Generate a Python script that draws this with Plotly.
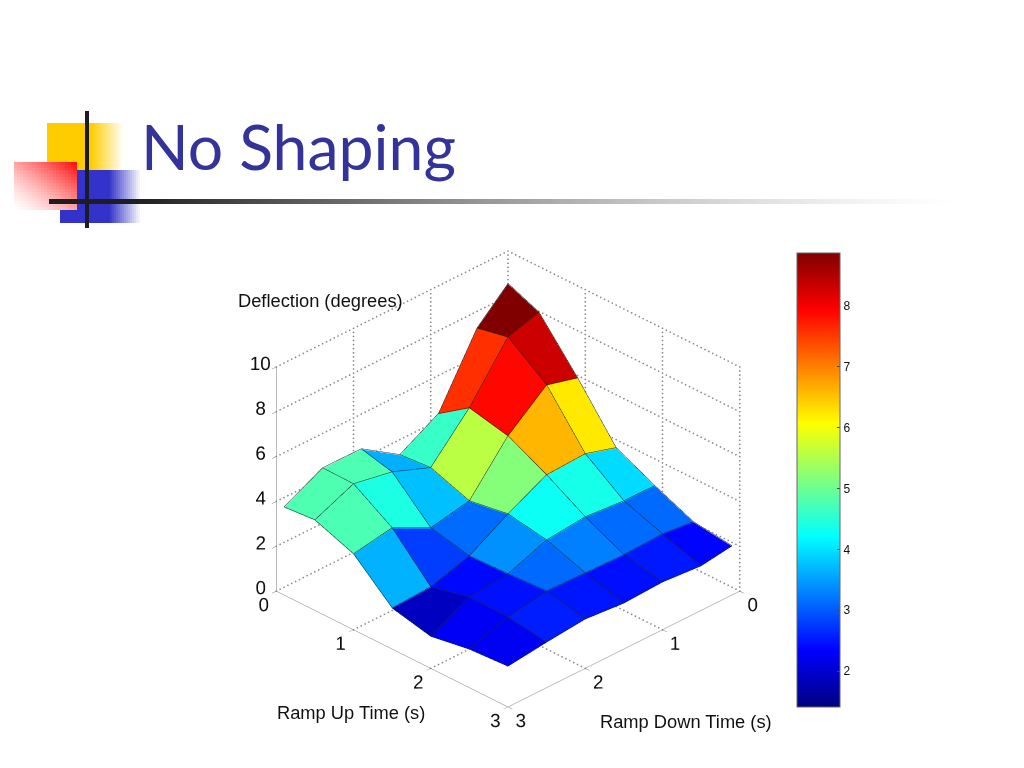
import plotly.graph_objects as go

ramp_up = [0.1, 0.5, 1.0, 1.5, 2.0, 2.5, 3.0]
ramp_down = [3.0, 2.5, 2.0, 1.5, 1.0, 0.5, 0.1]
row_0 = [3.90, 4.78, 4.77, 3.65, 4.62, 7.58, 8.87]
row_1 = [4.01, 4.76, 4.43, 3.76, 5.57, 7.87, 8.29]
row_2 = [3.36, 3.66, 2.80, 3.14, 5.18, 6.59, 6.22]
row_3 = [1.81, 1.89, 2.41, 3.42, 4.30, 4.38, 3.96]
row_4 = [1.41, 2.30, 2.47, 3.12, 3.29, 3.14, 3.13]
row_5 = [1.70, 2.27, 2.57, 2.51, 2.46, 2.53, 2.38]
row_6 = [1.80, 2.01, 2.18, 2.03, 2.11, 1.97, 2.17]
deflection = [row_0, row_1, row_2, row_3, row_4, row_5, row_6]
time_ticks = [0, 1, 2, 3]
z_ticks = [0, 2, 4, 6, 8, 10]
bar_ticks = [2, 3, 4, 5, 6, 7, 8]
title_text = "No Shaping"
z_label = "Deflection (degrees)"
up_label = "Ramp Up Time (s)"
down_label = "Ramp Down Time (s)"

W, H = 1024, 768
jet = [[0, "rgb(0,0,128)"], [0.125, "rgb(0,0,255)"], [0.375, "rgb(0,255,255)"],
       [0.625, "rgb(255,255,0)"], [0.875, "rgb(255,0,0)"], [1, "rgb(128,0,0)"]]
zlo, zhi = 1.41, 8.87
n = len(ramp_up)

xs, ys, zs = [], [], []
for a in range(n):
    for b in range(n):
        xs.append(ramp_down[b]); ys.append(ramp_up[a]); zs.append(deflection[a][b])
ti, tj, tk, cell = [], [], [], []
for a in range(n - 1):
    for b in range(n - 1):
        p = a * n + b
        ti += [p, p]; tj += [p + 1, p + n + 1]; tk += [p + n + 1, p + n]
        cell += [deflection[a][b + 1]] * 2

fig = go.Figure()
fig.add_trace(go.Mesh3d(
    x=xs, y=ys, z=zs, i=ti, j=tj, k=tk, intensity=cell, intensitymode="cell",
    colorscale=jet, cmin=zlo, cmax=zhi, flatshading=True, hoverinfo="skip",
    lighting=dict(ambient=1, diffuse=0, specular=0, fresnel=0, roughness=1),
    colorbar=dict(
        thicknessmode="pixels", thickness=43, lenmode="pixels", len=454,
        x=797 / W, xanchor="left", xpad=0, ypad=0, y=1 - 480 / H, yanchor="middle",
        tickmode="array", tickvals=bar_ticks, ticks="inside", ticklen=3, tickcolor="#444",
        tickfont=dict(family="Liberation Sans", size=12, color="#111"),
        outlinecolor="#666", outlinewidth=1),
))

lift = 0.03
ex, ey, ez = [], [], []
for a in range(n):
    for b in range(n):
        ex.append(ramp_down[b]); ey.append(ramp_up[a]); ez.append(deflection[a][b] + lift)
    ex.append(None); ey.append(None); ez.append(None)
for b in range(n):
    for a in range(n):
        ex.append(ramp_down[b]); ey.append(ramp_up[a]); ez.append(deflection[a][b] + lift)
    ex.append(None); ey.append(None); ez.append(None)
fig.add_trace(go.Scatter3d(x=ex, y=ey, z=ez, mode="lines", hoverinfo="skip", showlegend=False,
                           line=dict(color="#1c2a2a", width=1)))

gx, gy, gz = [], [], []
def seg(p, q, count):
    for s in range(count + 1):
        f = s / count
        gx.append(p[0] + (q[0] - p[0]) * f)
        gy.append(p[1] + (q[1] - p[1]) * f)
        gz.append(p[2] + (q[2] - p[2]) * f)
top = z_ticks[-1]
for t in time_ticks[:-1]:
    seg((t, 0, 0), (t, 3, 0), 60); seg((0, t, 0), (3, t, 0), 60)
    seg((t, 0, 0), (t, 0, top), 55); seg((0, t, 0), (0, t, top), 55)
for v in z_ticks:
    seg((3, 0, v), (0, 0, v), 60); seg((0, 0, v), (0, 3, v), 60)
seg((0, 3, 0), (0, 3, top), 55)
fig.add_trace(go.Scatter3d(x=gx, y=gy, z=gz, mode="markers", hoverinfo="skip", showlegend=False,
                           marker=dict(color="#8a8a8a", size=1, line=dict(width=0))))

# two otherwise empty scenes carry only the tick labels, nudged to their reference offsets
for scene_name in ("scene2", "scene3"):
    fig.add_trace(go.Scatter3d(x=[time_ticks[0], time_ticks[-1]], y=[time_ticks[0], time_ticks[-1]],
                               z=[z_ticks[0], z_ticks[-1]], mode="markers", scene=scene_name,
                               hoverinfo="skip", showlegend=False,
                               marker=dict(size=1, opacity=0)))

axis = dict(showgrid=False, zeroline=False, showbackground=False, showspikes=False,
            showline=True, linecolor="#777777", linewidth=1, title=dict(text=""),
            ticks="outside", ticklen=6, tickcolor="#777777", tickmode="array", tickangle=0,
            showticklabels=False)
label_axis = dict(showgrid=False, zeroline=False, showbackground=False, showspikes=False,
                  showline=False, title=dict(text=""), ticks="", tickmode="array", tickangle=0,
                  showticklabels=True,
                  tickfont=dict(family="Liberation Sans", size=15, color="#111"))
blank_axis = dict(label_axis, showticklabels=False)

def px(x): return x / W
def py(y): return 1 - y / H
shapes = []
def rect(x0, y0, x1, y1, color):
    shapes.append(dict(type="rect", xref="paper", yref="paper", x0=px(x0), x1=px(x1),
                       y0=py(y1), y1=py(y0), fillcolor=color, line=dict(width=0), layer="below"))
def mix(c, t):
    return "rgb(%d,%d,%d)" % tuple(round(255 + (v - 255) * t) for v in c)

for x in range(47, 125, 2):
    t = 1 if x < 90 else max(0, 1 - (x - 90) / 32)
    rect(x, 123, x + 2, 170, mix((255, 204, 0), t))
for x in range(60, 142, 2):
    t = 1 if x < 108 else max(0, 1 - (x - 108) / 32)
    rect(x, 170, x + 2, 223, mix((51, 51, 204), t))
for x in range(14, 77, 3):
    for y in range(162, 210, 3):
        t = ((x + 1.5 - 14) / 63 + (210 - y - 1.5) / 48) / 2
        rect(x, y, x + 3, y + 3, mix((255, 20, 20), min(1, t ** 1.4 * 1.05)))
for x in range(49, 965, 6):
    t = 1 if x < 130 else max(0, 1 - (x - 130) / 830) ** 1.4
    rect(x, 199, x + 6, 204, mix((30, 30, 30), t))
rect(85, 111, 89, 228, "rgb(28,28,40)")

def note(text, x, y):
    return dict(text=text, xref="paper", yref="paper", x=px(x), y=py(y), xanchor="left",
                yanchor="middle", showarrow=False, xshift=-2,
                font=dict(family="Liberation Sans", size=18.3, color="#111"))

scale = 1.134 * 578 / 560
camera = dict(projection=dict(type="orthographic"), up=dict(x=0, y=0, z=1),
              center=dict(x=0, y=0, z=0), eye=dict(x=1.058, y=1.058, z=0.864))
ratio = dict(x=scale, y=scale, z=0.79 * scale)
fig.update_layout(
    width=W, height=H, margin=dict(l=0, r=0, t=0, b=0), paper_bgcolor="white",
    showlegend=False,
    title=dict(text=title_text, x=141 / W, xanchor="left", y=py(148), yanchor="middle",
               xref="paper", yref="paper", pad=dict(l=0, r=0, t=0, b=0),
               font=dict(family="Lato", size=62.5, color="#333399")),
    shapes=shapes,
    annotations=[note(z_label, 238, 301), note(up_label, 277, 712), note(down_label, 600, 721)],
    scene=dict(
        domain=dict(x=[227.5 / W, 787.5 / W], y=[py(759), py(199)]),
        bgcolor="rgba(0,0,0,0)",
        aspectmode="manual", aspectratio=ratio, camera=camera,
        xaxis=dict(axis, range=[0, 3], tickvals=time_ticks),
        yaxis=dict(axis, range=[0, 3], tickvals=time_ticks),
        zaxis=dict(axis, range=[0, 10], tickvals=z_ticks),
    ),
    scene2=dict(
        domain=dict(x=[227.5 / W, 787.5 / W], y=[py(766), py(206)]),
        bgcolor="rgba(0,0,0,0)",
        aspectmode="manual", aspectratio=ratio, camera=camera,
        xaxis=dict(label_axis, range=[0, 3], tickvals=time_ticks),
        yaxis=dict(label_axis, range=[0, 3], tickvals=time_ticks),
        zaxis=dict(blank_axis, range=[0, 10], tickvals=z_ticks),
    ),
    scene3=dict(
        domain=dict(x=[224.5 / W, 784.5 / W], y=[py(749), py(189)]),
        bgcolor="rgba(0,0,0,0)",
        aspectmode="manual", aspectratio=ratio, camera=camera,
        xaxis=dict(blank_axis, range=[0, 3], tickvals=time_ticks),
        yaxis=dict(blank_axis, range=[0, 3], tickvals=time_ticks),
        zaxis=dict(label_axis, range=[0, 10], tickvals=z_ticks),
    ),
)
fig.write_html("out.html", config=dict(displayModeBar=False),
               post_script="document.body.style.margin='0';")
